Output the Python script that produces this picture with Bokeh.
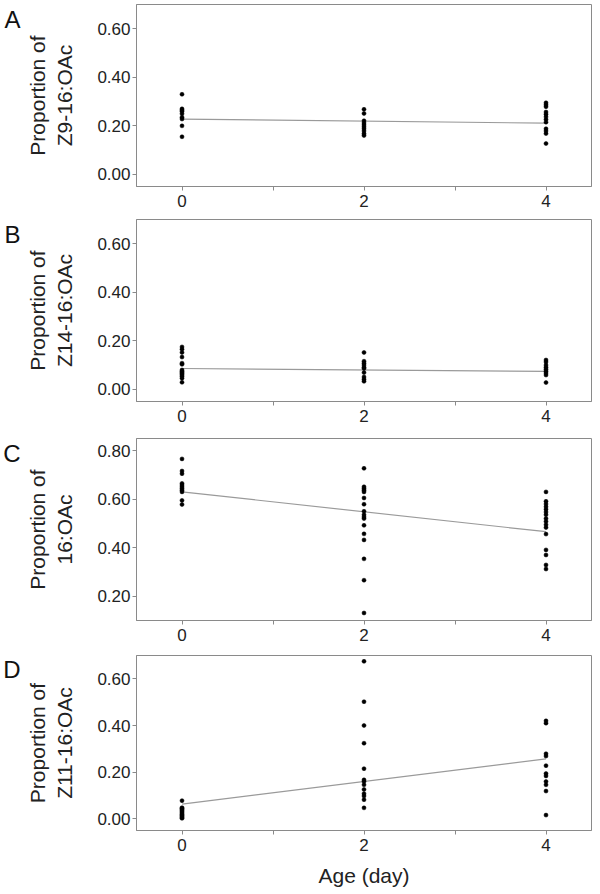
from bokeh.plotting import figure
from bokeh.layouts import column
from bokeh.models import Range1d, FixedTicker, PrintfTickFormatter, LinearAxis
from bokeh.embed import file_html
from bokeh.resources import INLINE

# ---------------- data ----------------
ages = [0, 2, 4]
x_ticks = [0, 2, 4]
x_minor_ticks = [1, 3]
x_title = "Age (day)"

panel_letters = ["A", "B", "C", "D"]
compounds = ["Z9-16:OAc", "Z14-16:OAc", "16:OAc", "Z11-16:OAc"]
y_label_prefix = "Proportion of"

y_ticks_low = [0.0, 0.2, 0.4, 0.6]
y_ticks_c = [0.2, 0.4, 0.6, 0.8]

# Panel A : Z9-16:OAc
z9_day0 = [0.33, 0.27, 0.265, 0.26, 0.25, 0.235, 0.228, 0.20, 0.155]
z9_day2 = [0.268, 0.251, 0.221, 0.212, 0.204, 0.196, 0.188, 0.179, 0.168, 0.160]
z9_day4 = [0.295, 0.287, 0.279, 0.257, 0.248, 0.237, 0.226, 0.215, 0.188, 0.179, 0.168, 0.127]
z9_fit = [0.228, 0.211]

# Panel B : Z14-16:OAc
z14_day0 = [0.175, 0.165, 0.152, 0.133, 0.108, 0.103, 0.08, 0.075, 0.07, 0.065, 0.06, 0.054, 0.046, 0.029]
z14_day2 = [0.152, 0.116, 0.108, 0.100, 0.091, 0.086, 0.069, 0.051, 0.042, 0.033]
z14_day4 = [0.121, 0.113, 0.100, 0.091, 0.083, 0.075, 0.067, 0.059, 0.028]
z14_fit = [0.086, 0.074]

# Panel C : 16:OAc
c16_day0 = [0.766, 0.716, 0.705, 0.665, 0.658, 0.651, 0.644, 0.637, 0.630, 0.595, 0.578]
c16_day2 = [0.727, 0.651, 0.644, 0.637, 0.630, 0.605, 0.579, 0.550, 0.536, 0.527, 0.520,
            0.492, 0.457, 0.432, 0.354, 0.266, 0.131]
c16_day4 = [0.630, 0.591, 0.580, 0.569, 0.558, 0.547, 0.536, 0.520, 0.508, 0.495, 0.483,
            0.456, 0.391, 0.370, 0.329, 0.312]
c16_fit = [0.630, 0.466]

# Panel D : Z11-16:OAc
z11_day0 = [0.078, 0.048, 0.045, 0.040, 0.035, 0.030, 0.025, 0.020, 0.015, 0.010, 0.005, 0.002]
z11_day2 = [0.675, 0.502, 0.400, 0.324, 0.215, 0.167, 0.160, 0.146, 0.126, 0.108, 0.098, 0.082, 0.047]
z11_day4 = [0.420, 0.410, 0.279, 0.269, 0.228, 0.194, 0.184, 0.160, 0.146, 0.119, 0.016]
z11_fit = [0.063, 0.257]

panel_values = [
    (z9_day0, z9_day2, z9_day4),
    (z14_day0, z14_day2, z14_day4),
    (c16_day0, c16_day2, c16_day4),
    (z11_day0, z11_day2, z11_day4),
]
panel_fits = [z9_fit, z14_fit, c16_fit, z11_fit]
panel_yranges = [(-0.05, 0.70), (-0.05, 0.70), (0.10, 0.85), (-0.05, 0.70)]
panel_yticks = [y_ticks_low, y_ticks_low, y_ticks_c, y_ticks_low]

# ---------------- styling / layout ----------------
FONT = "Liberation Sans"
FRAME_COLOR = "#8a8a8a"
TEXT_COLOR = "#222222"
FRAME_H = 182
borders_top = [4, 0, 0, 0]
borders_bottom = [33, 37, 35, 52]

figs = []
for i in range(4):
    last = (i == 3)
    y0, y1 = panel_yranges[i]
    p = figure(
        width=598,
        height=FRAME_H + borders_top[i] + borders_bottom[i],
        x_range=Range1d(-0.5, 4.5),
        y_range=Range1d(y0, y1),
        output_backend="svg",
        toolbar_location=None,
        min_border_left=134,
        min_border_right=7,
        min_border_top=borders_top[i],
        min_border_bottom=borders_bottom[i],
    )
    p.background_fill_color = "white"
    p.border_fill_color = "white"
    p.outline_line_color = FRAME_COLOR
    p.outline_line_width = 1
    p.xgrid.visible = False
    p.ygrid.visible = False

    # x axis
    xa = p.xaxis[0]
    xa.ticker = FixedTicker(ticks=x_ticks, minor_ticks=x_minor_ticks)
    xa.axis_line_color = FRAME_COLOR
    xa.major_tick_line_color = FRAME_COLOR
    xa.minor_tick_line_color = FRAME_COLOR
    xa.major_tick_out = 4
    xa.major_tick_in = 0
    xa.minor_tick_out = 4
    xa.minor_tick_in = 0
    xa.major_label_text_font = FONT
    xa.major_label_text_font_size = "17px"
    xa.major_label_text_color = TEXT_COLOR
    xa.major_label_standoff = 4
    if last:
        xa.axis_label = x_title
        xa.axis_label_text_font = FONT
        xa.axis_label_text_font_size = "21px"
        xa.axis_label_text_font_style = "normal"
        xa.axis_label_text_color = TEXT_COLOR
        xa.axis_label_standoff = 10

    # y axis
    ya = p.yaxis[0]
    ya.ticker = FixedTicker(ticks=panel_yticks[i], minor_ticks=[])
    ya.formatter = PrintfTickFormatter(format="%.2f")
    ya.axis_line_color = FRAME_COLOR
    ya.major_tick_line_color = FRAME_COLOR
    ya.major_tick_out = 4
    ya.major_tick_in = 0
    ya.minor_tick_line_color = None
    ya.major_label_text_font = FONT
    ya.major_label_text_font_size = "17px"
    ya.major_label_text_color = TEXT_COLOR
    ya.major_label_standoff = 2
    ya.axis_label = y_label_prefix + "\n" + compounds[i]
    ya.axis_label_text_font = FONT
    ya.axis_label_text_font_size = "21px"
    ya.axis_label_text_font_style = "normal"
    ya.axis_label_text_color = TEXT_COLOR
    ya.axis_label_standoff = 18

    # panel letter: an extra, line-less axis on the far left carrying one label
    p.extra_y_ranges = {"letter": Range1d(0, 100)}
    la = LinearAxis(y_range_name="letter",
                    ticker=FixedTicker(ticks=[92], minor_ticks=[]),
                    major_label_overrides={92: panel_letters[i]})
    la.axis_line_color = None
    la.major_tick_line_color = None
    la.minor_tick_line_color = None
    la.major_tick_out = 0
    la.major_tick_in = 0
    la.major_label_standoff = 2
    la.major_label_text_font = FONT
    la.major_label_text_font_size = "24px"
    la.major_label_text_color = "#111111"
    p.add_layout(la, "left")

    # regression line
    p.line(x=[ages[0], ages[-1]], y=panel_fits[i], line_color="#9a9a9a", line_width=1.2)

    # points
    for age, vals in zip(ages, panel_values[i]):
        p.scatter(x=[age] * len(vals), y=vals, size=4, marker="circle",
                  fill_color="black", line_color="black", line_width=0.5)

    figs.append(p)

layout = column(*figs, spacing=0)
open("out.html", "w").write(file_html(layout, INLINE))
